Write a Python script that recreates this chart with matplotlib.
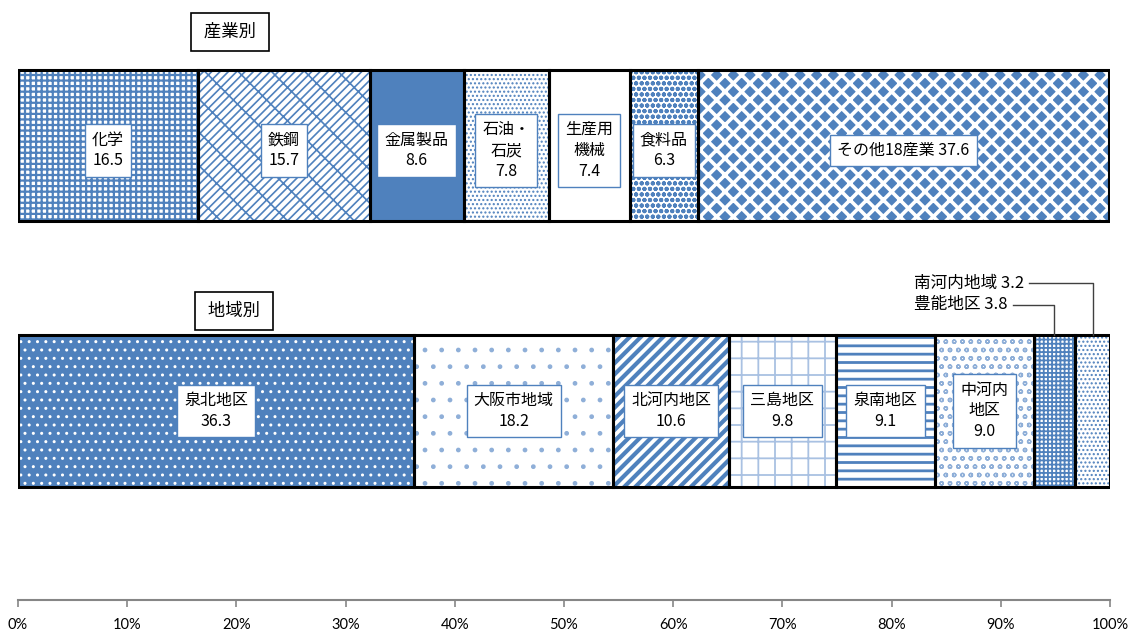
import matplotlib.pyplot as plt
import numpy as np

plt.rcParams['font.family'] = ['Noto Sans CJK JP', 'DejaVu Sans']

# 産業別
ind_names = ['化学', '鉄鋼', '金属製品', '石油・\n石炭', '生産用\n機械', '食料品', 'その他18産業']
ind_vals = [16.5, 15.7, 8.6, 7.8, 7.4, 6.3, 37.6]
ind_multiline = [True, True, True, True, True, True, False]

# 地域別
reg_names = ['泉北地区', '大阪市地域', '北河内地区', '三島地区', '泉南地区', '中河内\n地区', '豊能地区', '南河内地域']
reg_vals = [36.3, 18.2, 10.6, 9.8, 9.1, 9.0, 3.8, 3.2]
reg_inside = [True, True, True, True, True, True, False, False]

xticks = np.arange(0, 101, 10)

BLUE = '#4F81BD'
LIGHT = '#8FAFD8'
# (face, hatch colour, hatch, hatch linewidth)
ind_style = [
    ('white', BLUE, '+++', 1.6),
    ('white', BLUE, '////\\', 1.2),
    (BLUE, BLUE, None, 1.0),
    ('white', BLUE, '....', 1.0),
    ('white', BLUE, None, 1.0),
    ('white', BLUE, 'ooo', 1.4),
    (BLUE, 'white', 'xx', 2.6),
]
reg_style = [
    (BLUE, 'white', '..', 1.0),
    ('white', LIGHT, '.', 1.0),
    ('white', BLUE, '///', 3.0),
    ('white', '#A9C1E2', '+', 1.3),
    ('white', BLUE, '--', 2.0),
    ('white', LIGHT, 'oo', 1.0),
    ('white', BLUE, '++++', 1.3),
    ('white', BLUE, '....', 1.0),
]

fig = plt.figure(figsize=(11.33, 6.3), dpi=100)
ax = fig.add_axes([18 / 1133, 30 / 630, 1092 / 1133, 600 / 630])
ax.set_xlim(0, 100)
ax.set_ylim(0, 600)


def draw_bar(y, h, vals, styles):
    lefts = np.concatenate([[0], np.cumsum(vals)[:-1]])
    for v, l, (face, hc, hatch, hlw) in zip(vals, lefts, styles):
        with plt.rc_context({'hatch.linewidth': hlw}):
            b = ax.barh(y, v, left=l, height=h, color=face, edgecolor=hc,
                        hatch=hatch, linewidth=0)
        for p in b:
            if hasattr(p, 'set_hatch_linewidth'):
                p.set_hatch_linewidth(hlw)
    ax.barh(y, vals, left=lefts, height=h, fill=False, edgecolor='black',
            linewidth=2.2, zorder=3)
    return lefts


box = dict(boxstyle='square,pad=0.45', facecolor='white', edgecolor=BLUE, linewidth=1.0)

# top bar
y_top, h_top = 454.5, 151
lefts = draw_bar(y_top, h_top, ind_vals, ind_style)
for name, v, l, ml in zip(ind_names, ind_vals, lefts, ind_multiline):
    label = f'{name}\n{v:.1f}' if ml else f'{name} {v:.1f}'
    ax.text(l + v / 2, y_top - 5, label, ha='center', va='center', fontsize=11.5,
            linespacing=1.3, bbox=box, zorder=5)

# bottom bar
y_bot, h_bot = 189, 152
lefts = draw_bar(y_bot, h_bot, reg_vals, reg_style)
for name, v, l, inside in zip(reg_names, reg_vals, lefts, reg_inside):
    if inside:
        ax.text(l + v / 2, y_bot, f'{name}\n{v:.1f}', ha='center', va='center',
                fontsize=11.5, linespacing=1.3, bbox=box, zorder=5)

# call-outs for small segments
bar_top = y_bot + h_bot / 2
callouts = [(6, 90.6, 295), (7, 92.1, 317)]
for i, tx, ty in callouts:
    cx = lefts[i] + reg_vals[i] / 2
    ax.text(tx, ty, f'{reg_names[i]} {reg_vals[i]:.1f}', ha='right', va='center',
            fontsize=12)
    ax.plot([tx + 0.5, cx, cx], [ty, ty, bar_top], color='#404040', lw=1.0,
            zorder=4, clip_on=False)

# section titles
title_box = dict(boxstyle='square,pad=0.55', facecolor='white', edgecolor='black', linewidth=1.2)
fig.text(230 / 1133, 1 - 32 / 630, ' 産業別 ', ha='center', va='center', fontsize=12.5, bbox=title_box)
fig.text(234 / 1133, 1 - 311 / 630, ' 地域別 ', ha='center', va='center', fontsize=12.5, bbox=title_box)

# axis
ax.set_xticks(xticks)
ax.set_xticklabels([f'{t}%' for t in xticks], family='Lato', fontsize=10.5)
ax.set_yticks([])
for s in ['top', 'right', 'left']:
    ax.spines[s].set_visible(False)
ax.spines['bottom'].set_color('#868686')
ax.spines['bottom'].set_linewidth(1.5)
ax.tick_params(axis='x', color='#868686', length=5, width=1.2, pad=8)
ax.patch.set_visible(False)

fig.savefig('out.png', dpi=100)
